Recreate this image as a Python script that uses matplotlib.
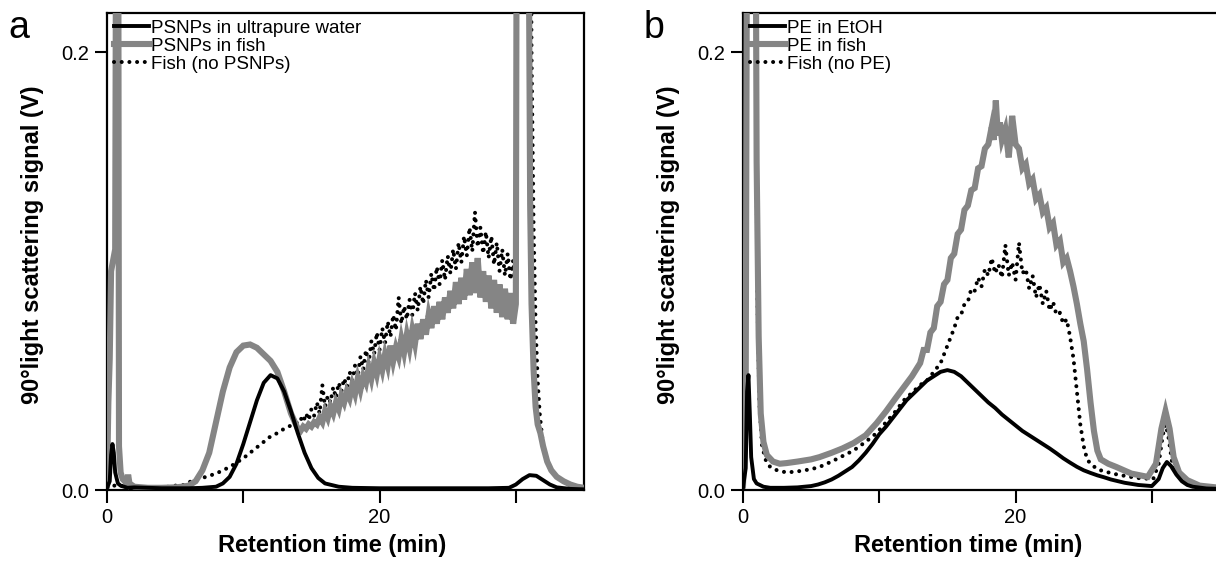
import matplotlib
matplotlib.use("Agg")
import matplotlib.pyplot as plt

plt.rcParams['font.family'] = ['Liberation Sans', 'DejaVu Sans']

# ---------------- Panel a data ----------------
a_water_x = [0, 0.2, 0.3, 0.4, 0.5, 0.6, 0.8, 1.0, 1.5, 2, 3, 4, 5, 6, 7, 8, 8.5, 9, 9.5, 10,
             10.5, 11, 11.5, 12, 12.5, 13, 13.5, 14, 14.5, 15, 15.5, 16, 17, 18, 20, 22, 24, 26,
             28, 29.5, 30, 30.5, 31, 31.5, 32, 32.5, 33, 34, 35]
a_water_y = [0.001, 0.004, 0.016, 0.021, 0.017, 0.008, 0.003, 0.002, 0.001, 0.0012, 0.001, 0.0008,
             0.0008, 0.0008, 0.001, 0.0015, 0.003, 0.006, 0.012, 0.021, 0.031, 0.041, 0.049, 0.0525,
             0.051, 0.045, 0.036, 0.026, 0.017, 0.010, 0.0055, 0.003, 0.0015, 0.001, 0.0008, 0.0008,
             0.0008, 0.0008, 0.0008, 0.001, 0.0025, 0.005, 0.0068, 0.0065, 0.0045, 0.0025, 0.0012,
             0.0005, 0.0003]

a_fish_x = [0, 0.1, 0.2, 0.3, 0.45, 0.6, 0.72, 0.8, 0.88, 1.0, 1.15, 1.3, 1.45, 1.55, 1.65, 2.0, 3, 4,
            5, 5.5, 6, 6.5, 7, 7.5, 8, 8.5, 9, 9.5, 10, 10.5, 11, 11.5, 12, 12.5, 13, 13.5,
            14.0, 14.2, 14.4, 14.6, 14.8, 15.0, 15.2, 15.4, 15.6, 15.8, 16.0, 16.2, 16.4, 16.6,
            16.8, 17.0, 17.2, 17.4, 17.6, 17.8, 18.0, 18.2, 18.4, 18.6, 18.8, 19.0, 19.2, 19.4,
            19.6, 19.8, 20.0, 20.2, 20.4, 20.6, 20.8, 21.0, 21.2, 21.4, 21.6, 21.8, 22.0, 22.2,
            22.4, 22.6, 22.8, 23.0, 23.2, 23.4, 23.6, 23.8, 24.0, 24.2, 24.4, 24.6, 24.8, 25.0,
            25.2, 25.4, 25.6, 25.8, 26.0, 26.2, 26.4, 26.6, 26.8, 27.0, 27.2, 27.4, 27.6, 27.8,
            28.0, 28.2, 28.4, 28.6, 28.8, 29.0, 29.2, 29.4, 29.6, 29.8, 30.0, 30.1, 30.8, 30.95,
            31.05, 31.15, 31.3, 31.45, 31.6, 31.8, 32.0, 32.3, 32.6, 33.0, 33.5, 34.0, 34.5, 35]
a_fish_y = [0.002, 0.04, 0.06, 0.10, 0.105, 0.11, 0.4, 0.4, 0.02, 0.008, 0.005, 0.004, 0.003, 0.007,
            0.003, 0.0015, 0.001, 0.001, 0.0012, 0.0015, 0.002, 0.004, 0.009, 0.017, 0.031, 0.045,
            0.056, 0.063, 0.066, 0.0665, 0.065, 0.062, 0.059, 0.054, 0.045, 0.035,
            0.028, 0.027, 0.029, 0.028, 0.030, 0.029, 0.031, 0.030, 0.033, 0.031, 0.036, 0.033,
            0.038, 0.035, 0.040, 0.037, 0.043, 0.040, 0.045, 0.042, 0.048, 0.044, 0.051, 0.046,
            0.052, 0.049, 0.056, 0.051, 0.058, 0.053, 0.060, 0.055, 0.062, 0.057, 0.066, 0.059,
            0.065, 0.061, 0.069, 0.063, 0.071, 0.065, 0.073, 0.067, 0.076, 0.069, 0.078, 0.071,
            0.080, 0.074, 0.084, 0.076, 0.086, 0.078, 0.088, 0.081, 0.091, 0.083, 0.095, 0.085,
            0.097, 0.087, 0.101, 0.089, 0.104, 0.090, 0.106, 0.088, 0.100, 0.086, 0.098, 0.083,
            0.096, 0.081, 0.094, 0.079, 0.092, 0.078, 0.090, 0.076, 0.085, 0.40, 0.40, 0.25,
            0.13, 0.085, 0.055, 0.038, 0.030, 0.026, 0.020, 0.013, 0.009, 0.006, 0.004, 0.0025,
            0.0015, 0.001]

a_blank_x = [0, 0.5, 1.0, 1.3, 2, 3, 4, 5, 5.5, 6.0, 6.5, 7.0, 7.5, 8.0, 8.5, 9.0, 9.5,
             10.0, 10.5, 11.0, 11.5, 12.0, 12.5, 13.0, 13.5, 14.0,
             14.2, 14.4, 14.6, 14.8, 15.0, 15.2, 15.4, 15.6, 15.8, 16.0, 16.2, 16.4, 16.6, 16.8,
             17.0, 17.2, 17.4, 17.6, 17.8, 18.0, 18.2, 18.4, 18.6, 18.8, 19.0, 19.2, 19.4, 19.6,
             19.8, 20.0, 20.2, 20.4, 20.6, 20.8, 21.0, 21.2, 21.4, 21.6, 21.8, 22.0, 22.2, 22.4,
             22.6, 22.8, 23.0, 23.2, 23.4, 23.6, 23.8, 24.0, 24.2, 24.4, 24.6, 24.8, 25.0, 25.2,
             25.4, 25.6, 25.8, 26.0, 26.2, 26.4, 26.6, 26.8, 27.0, 27.2, 27.4, 27.6, 27.8, 28.0,
             28.2, 28.4, 28.6, 28.8, 29.0, 29.2, 29.4, 29.6, 29.8, 30.0, 30.1, 31.0, 31.15, 31.3,
             31.45, 31.6, 31.75, 32.0, 32.3, 32.7, 33.0, 33.5, 34.0, 35]
a_blank_y = [0.001, 0.002, 0.002, 0.0015, 0.0015, 0.001, 0.001, 0.002, 0.002, 0.0035, 0.0048,
             0.0055, 0.0065, 0.0075, 0.009, 0.0105, 0.0125, 0.0145, 0.017, 0.0195, 0.022, 0.0245,
             0.026, 0.028, 0.0295, 0.031,
             0.033, 0.031, 0.035, 0.032, 0.037, 0.034, 0.040, 0.035, 0.048, 0.038, 0.043, 0.040,
             0.047, 0.042, 0.049, 0.045, 0.051, 0.047, 0.054, 0.050, 0.057, 0.052, 0.061, 0.055,
             0.064, 0.058, 0.068, 0.062, 0.072, 0.064, 0.074, 0.067, 0.077, 0.070, 0.080, 0.073,
             0.088, 0.076, 0.084, 0.078, 0.087, 0.080, 0.090, 0.082, 0.093, 0.085, 0.096, 0.088,
             0.099, 0.091, 0.102, 0.094, 0.105, 0.096, 0.107, 0.099, 0.110, 0.101, 0.113, 0.104,
             0.116, 0.107, 0.120, 0.109, 0.127, 0.111, 0.120, 0.108, 0.118, 0.106, 0.116, 0.103,
             0.113, 0.100, 0.110, 0.098, 0.108, 0.096, 0.105, 0.090, 0.40, 0.40, 0.20, 0.12,
             0.075, 0.05, 0.035, 0.02, 0.012, 0.008, 0.006, 0.004, 0.0025, 0.001]

# ---------------- Panel b data ----------------
b_etoh_x = [0, 0.2, 0.3, 0.4, 0.5, 0.6, 0.8, 1.0, 1.5, 2, 3, 4, 5, 5.5, 6, 6.5, 7.0, 7.5, 8.0, 8.5,
            9.0, 9.5, 10.0, 10.5, 11.0, 11.5, 12.0, 12.5, 13.0, 13.5, 14.0, 14.5, 15.0, 15.5, 16.0,
            16.5, 17.0, 17.5, 18.0, 18.5, 19.0, 19.5, 20.0, 20.5, 21.0, 21.5, 22.0, 22.5, 23.0,
            23.5, 24.0, 24.5, 25.0, 25.5, 26.0, 26.5, 27.0, 28.0, 29.0, 30.0, 30.5, 30.8, 31.1,
            31.4, 31.8, 32.2, 32.6, 33, 34, 35]
b_etoh_y = [0.001, 0.01, 0.045, 0.0525, 0.035, 0.015, 0.005, 0.003, 0.0015, 0.001, 0.001, 0.0012,
            0.0018, 0.0025, 0.0035, 0.0048, 0.0065, 0.0085, 0.0105, 0.0135, 0.017, 0.021, 0.0255,
            0.029, 0.033, 0.037, 0.041, 0.044, 0.047, 0.050, 0.052, 0.054, 0.0548, 0.054, 0.052,
            0.049, 0.046, 0.043, 0.040, 0.0375, 0.0345, 0.032, 0.0295, 0.027, 0.025, 0.023, 0.021,
            0.019, 0.0168, 0.0145, 0.0125, 0.0106, 0.009, 0.0078, 0.0067, 0.0058, 0.0048, 0.0033,
            0.0023, 0.0018, 0.005, 0.010, 0.0128, 0.011, 0.007, 0.004, 0.0023, 0.0015, 0.0007,
            0.0005]

b_fish_x = [0, 0.2, 0.35, 0.85, 1.0, 1.15, 1.3, 1.5, 1.75, 2.2, 2.7, 3.2, 4, 5, 5.6, 6.5, 7.3, 8.1,
            9, 9.8, 10.5, 11.2, 11.8, 12.4,
            13.00, 13.25, 13.50, 13.75, 14.00, 14.25, 14.50, 14.75, 15.00, 15.25, 15.50, 15.75,
            16.00, 16.25, 16.50, 16.75, 17.00, 17.25, 17.50, 17.75, 18.00, 18.25, 18.40, 18.55,
            18.70, 18.85, 19.00, 19.25, 19.50, 19.75, 20.00, 20.25, 20.50, 20.75, 21.00, 21.25,
            21.50, 21.75, 22.00, 22.25, 22.50, 22.75, 23.00, 23.25, 23.50, 23.75, 24.00, 24.25,
            24.50, 24.75, 25.00, 25.25, 25.50, 25.75, 26.00, 26.25, 26.8, 27.4, 28.5, 29.7, 30.3,
            30.7, 31.0, 31.3, 31.6, 32.0, 32.6, 33.5, 35]
b_fish_y = [0.002, 0.05, 0.4, 0.4, 0.15, 0.07, 0.035, 0.022, 0.016, 0.013, 0.012, 0.0123, 0.013,
            0.014, 0.015, 0.017, 0.019, 0.0214, 0.025, 0.0305, 0.036, 0.042, 0.047, 0.052,
            0.058, 0.064, 0.064, 0.072, 0.074, 0.084, 0.086, 0.094, 0.096, 0.106, 0.108, 0.117,
            0.119, 0.128, 0.130, 0.137, 0.138, 0.147, 0.148, 0.156, 0.158, 0.166, 0.160, 0.178,
            0.162, 0.168, 0.160, 0.165, 0.152, 0.171, 0.158, 0.156, 0.147, 0.149, 0.140, 0.142,
            0.133, 0.135, 0.127, 0.129, 0.120, 0.122, 0.112, 0.114, 0.104, 0.106, 0.100, 0.093,
            0.085, 0.076, 0.068, 0.055, 0.040, 0.027, 0.018, 0.014, 0.012, 0.0105, 0.0075, 0.006,
            0.012, 0.028, 0.036, 0.028, 0.015, 0.008, 0.0045, 0.002, 0.001]

b_blank_x = [0, 0.25, 0.35, 0.85, 0.95, 1.05, 1.2, 1.4, 1.7, 2.0, 2.5, 3.2, 4, 5, 5.6, 6.5, 7.3, 8.1,
             9.0, 9.8, 10.5, 11.2, 11.8, 12.5, 13.0, 13.5, 14.0, 14.5,
             15.0, 15.25, 15.5, 15.75, 16.0, 16.25, 16.5, 16.75, 17.0, 17.25, 17.5, 17.75, 18.0,
             18.25, 18.5, 18.75, 19.0, 19.25, 19.5, 19.75, 20.0, 20.25, 20.5, 20.75, 21.0, 21.25,
             21.5, 21.75, 22.0, 22.25, 22.5, 22.75, 23.0, 23.25, 23.5, 23.75, 24.0, 24.25, 24.5,
             24.75, 25.0, 25.25, 25.5, 26.0, 26.5, 27.5, 28.9, 30.1, 30.5, 30.8, 31.0, 31.2, 31.5,
             32.0, 32.6, 33.5, 35]
b_blank_y = [0.002, 0.1, 0.4, 0.4, 0.2, 0.09, 0.04, 0.02, 0.013, 0.0105, 0.009, 0.008, 0.0085,
             0.0095, 0.0105, 0.013, 0.0155, 0.018, 0.022, 0.026, 0.031, 0.036, 0.041, 0.045, 0.048,
             0.050, 0.054, 0.058,
             0.066, 0.070, 0.074, 0.079, 0.080, 0.085, 0.086, 0.092, 0.091, 0.097, 0.093, 0.101,
             0.098, 0.106, 0.099, 0.103, 0.097, 0.112, 0.098, 0.104, 0.096, 0.113, 0.099, 0.101,
             0.092, 0.098, 0.088, 0.094, 0.085, 0.091, 0.082, 0.086, 0.080, 0.081, 0.076, 0.078,
             0.070, 0.060, 0.045, 0.030, 0.020, 0.014, 0.012, 0.0095, 0.0085, 0.007, 0.0055,
             0.005, 0.012, 0.025, 0.030, 0.025, 0.012, 0.006, 0.0035, 0.0015, 0.0008]

labels_a = ['PSNPs in ultrapure water', 'PSNPs in fish', 'Fish (no PSNPs)']
labels_b = ['PE in EtOH', 'PE in fish', 'Fish (no PE)']
x_ticks = [0, 10, 20, 30]
x_ticklabels = ['0', '', '20', '']
y_ticks = [0.0, 0.2]
y_ticklabels = ['0.0', '0.2']

GRAY = '#858585'
W, H = 1216, 563
fig = plt.figure(figsize=(W / 100, H / 100), dpi=100)

panels = [
    ('a', 107, (a_water_x, a_water_y), (a_fish_x, a_fish_y), (a_blank_x, a_blank_y), labels_a, 8),
    ('b', 743, (b_etoh_x, b_etoh_y), (b_fish_x, b_fish_y), (b_blank_x, b_blank_y), labels_b, 644),
]

for letter, left, s1, s2, s3, labels, letter_x in panels:
    ax = fig.add_axes([left / W, 73 / H, 477 / W, 477 / H])
    l1, = ax.plot(s1[0], s1[1], color='black', lw=2.8, zorder=4, solid_joinstyle='round')
    l2, = ax.plot(s2[0], s2[1], color=GRAY, lw=4.4, zorder=3, solid_joinstyle='miter')
    l3, = ax.plot(s3[0], s3[1], color='black', lw=2.9, zorder=2,
                  linestyle=(0, (0.01, 1.9)), dash_capstyle='round')
    ax.set_xlim(0, 35)
    ax.set_ylim(0, 0.218)
    ax.set_xticks(x_ticks)
    ax.set_xticklabels(x_ticklabels)
    ax.set_yticks(y_ticks)
    ax.set_yticklabels(y_ticklabels)
    ax.tick_params(direction='out', length=9, width=1.5, labelsize=14.5, pad=4)
    for sp in ax.spines.values():
        sp.set_linewidth(1.6)
    ax.set_xlabel('Retention time (min)', fontsize=17, fontweight='bold', labelpad=5)
    ax.set_ylabel('90°light scattering signal (V)', fontsize=17, fontweight='bold', labelpad=12)
    ax.xaxis.label.set_x(0.473)
    ax.yaxis.label.set_y(0.514)
    ax.legend([l1, l2, l3], labels, loc='upper left', bbox_to_anchor=(0.0, 1.0),
              frameon=False, fontsize=13.5, handlelength=1.9, handletextpad=0.1,
              labelspacing=0.05, borderpad=0.35, borderaxespad=0.0)
    fig.text(letter_x / W, 1 - 10 / H, letter, fontsize=27, ha='left', va='top')

fig.savefig('out.png', dpi=100)
